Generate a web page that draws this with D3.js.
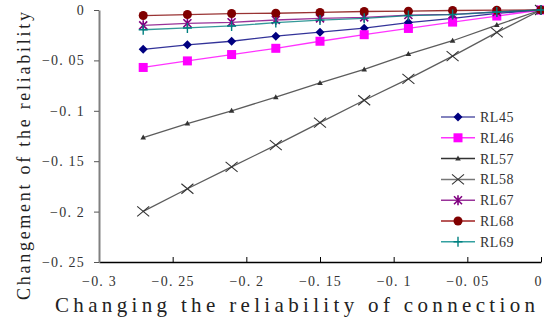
<!DOCTYPE html>
<html>
<head>
<meta charset="utf-8">
<script src="https://cdn.jsdelivr.net/npm/d3@7"></script>
<style>
  body { margin: 0; background: #fff; }
  svg { display: block; }
</style>
</head>
<body>
<div id="chart"></div>
<script>
// x values (changing reliability of connection)
const xValues = [-0.27, -0.24, -0.21, -0.18, -0.15, -0.12, -0.09, -0.06, -0.03, 0];

const rl45 = [-0.039, -0.0345, -0.031, -0.026, -0.022, -0.018, -0.0125, -0.0083, -0.0033, 0];
const rl46 = [-0.057, -0.0505, -0.0442, -0.038, -0.031, -0.0245, -0.0183, -0.012, -0.006, 0];
const rl57 = [-0.1266, -0.1127, -0.1, -0.0865, -0.0723, -0.059, -0.0437, -0.0305, -0.015, 0];
const rl58 = [-0.1998, -0.1773, -0.1557, -0.134, -0.1117, -0.0895, -0.0683, -0.0457, -0.0222, 0];
const rl67 = [-0.0152, -0.0132, -0.0122, -0.0099, -0.0083, -0.0073, -0.005, -0.0043, -0.002, 0];
const rl68 = [-0.0055, -0.0045, -0.0035, -0.0032, -0.0024, -0.0015, -0.0012, -0.0005, -0.0002, 0];
const rl69 = [-0.0196, -0.0178, -0.0158, -0.0125, -0.01, -0.0083, -0.0055, -0.0045, -0.002, 0];

const seriesNames = ['RL45', 'RL46', 'RL57', 'RL58', 'RL67', 'RL68', 'RL69'];
const seriesValues = [rl45, rl46, rl57, rl58, rl67, rl68, rl69];
const seriesColors = ['#000080', '#ff00ff', '#333333', '#333333', '#800080', '#800000', '#008080'];
const legendLineColors = ['#5a5aa8', '#ff33ff', '#333333', '#777777', '#993399', '#a02020', '#33a0a0'];
const seriesMarkers = ['diamond', 'square', 'triangle', 'x', 'asterisk', 'circle', 'plus'];

const xTicks = [-0.3, -0.25, -0.2, -0.15, -0.1, -0.05, 0];
const yTicks = [0, -0.05, -0.1, -0.15, -0.2, -0.25];
const xTickLabels = ['−0. 3', '−0. 25', '−0. 2', '−0. 15', '−0. 1', '−0. 05', '0'];
const yTickLabels = ['0', '−0. 05', '−0. 1', '−0. 15', '−0. 2', '−0. 25'];

const xTitle = 'Changing the reliability of connection';
const yTitle = 'Changement of the reliability';

const width = 544, height = 320;
const margin = { top: 10, right: 3, bottom: 58, left: 99 };
const plotW = width - margin.left - margin.right;
const plotH = height - margin.top - margin.bottom;

const svg = d3.select('#chart').append('svg')
  .attr('width', width)
  .attr('height', height);

const x = d3.scaleLinear().domain([-0.3, 0]).range([0, plotW]);
const y = d3.scaleLinear().domain([-0.25, 0]).range([plotH, 0]);

const g = svg.append('g')
  .attr('transform', 'translate(' + margin.left + ',' + margin.top + ')');

// draws one marker at the origin of the given group
function drawMarker(sel, type, color) {
  switch (type) {
    case 'diamond':
      sel.append('path').attr('d', 'M0,-4.5L4.5,0L0,4.5L-4.5,0Z').attr('fill', color);
      break;
    case 'square':
      sel.append('rect').attr('x', -4.5).attr('y', -4.5).attr('width', 9).attr('height', 9).attr('fill', color);
      break;
    case 'triangle':
      sel.append('path').attr('d', 'M0,-3L2.8,2L-2.8,2Z').attr('fill', color);
      break;
    case 'x':
      sel.append('path').attr('d', 'M-6,-5L6,5M-6,5L6,-5').attr('stroke', color).attr('stroke-width', 1.1).attr('fill', 'none');
      break;
    case 'asterisk':
      sel.append('path').attr('d', 'M-4,-4L4,4M-4,4L4,-4M0,-5L0,5').attr('stroke', color).attr('stroke-width', 1.6).attr('fill', 'none');
      break;
    case 'circle':
      sel.append('circle').attr('r', 4.5).attr('fill', color);
      break;
    case 'plus':
      sel.append('path').attr('d', 'M-4.5,0L4.5,0M0,-5L0,5').attr('stroke', color).attr('stroke-width', 1.4).attr('fill', 'none');
      break;
  }
}

// axes
const xAxis = g.append('g')
  .attr('transform', 'translate(0,' + plotH + ')')
  .call(d3.axisBottom(x).tickValues(xTicks).tickSizeInner(-5).tickSizeOuter(0)
    .tickFormat((d, i) => xTickLabels[i]));
xAxis.select('.domain').attr('stroke', '#000').attr('stroke-width', 1.5);
xAxis.selectAll('.tick line').attr('stroke', '#000');
xAxis.selectAll('.tick text')
  .attr('y', 14)
  .attr('font-family', '"Liberation Serif", serif')
  .attr('font-size', 14)
  .attr('letter-spacing', 1.2)
  .attr('fill', '#333');
// keep the last label ("0") inside the window
xAxis.selectAll('.tick text').filter(d => d === 0).attr('dx', -3);

const yAxis = g.append('g')
  .call(d3.axisLeft(y).tickValues(yTicks).tickSizeInner(5).tickSizeOuter(0)
    .tickFormat((d, i) => yTickLabels[i]));
yAxis.select('.domain').attr('stroke', '#808080').attr('stroke-width', 2);
yAxis.selectAll('.tick line').attr('stroke', '#555');
yAxis.selectAll('.tick text')
  .attr('x', -14)
  .attr('font-family', '"Liberation Serif", serif')
  .attr('font-size', 14)
  .attr('letter-spacing', 1.2)
  .attr('fill', '#333');

// series lines and markers
const line = d3.line().x((d, i) => x(xValues[i])).y(d => y(d));

seriesValues.forEach((vals, s) => {
  g.append('path')
    .datum(vals)
    .attr('d', line)
    .attr('fill', 'none')
    .attr('stroke', seriesColors[s])
    .attr('stroke-opacity', 0.8)
    .attr('stroke-width', 1.3);
  g.selectAll('.m' + s)
    .data(vals)
    .enter().append('g')
    .attr('class', 'm' + s)
    .attr('transform', (d, i) => 'translate(' + x(xValues[i]) + ',' + y(d) + ')')
    .each(function () { drawMarker(d3.select(this), seriesMarkers[s], seriesColors[s]); });
});

// legend
const legend = svg.append('g').attr('transform', 'translate(441,117)');
seriesNames.forEach((name, s) => {
  const item = legend.append('g').attr('transform', 'translate(0,' + (s * 20.8) + ')');
  item.append('line').attr('x1', 0).attr('x2', 34).attr('y1', 0).attr('y2', 0)
    .attr('stroke', legendLineColors[s]).attr('stroke-width', 1.5);
  drawMarker(item.append('g').attr('transform', 'translate(17,0)'), seriesMarkers[s], seriesColors[s]);
  item.append('text')
    .attr('x', 39).attr('y', 0).attr('dy', '0.35em')
    .attr('font-family', '"Liberation Serif", serif')
    .attr('font-size', 14)
    .attr('letter-spacing', 0.5)
    .attr('fill', '#333')
    .text(name);
});

// axis titles
svg.append('text')
  .attr('x', 295).attr('y', 312)
  .attr('text-anchor', 'middle')
  .attr('font-family', '"Liberation Serif", serif')
  .attr('font-size', 21)
  .attr('fill', '#222')
  .attr('textLength', 480)
  .attr('lengthAdjust', 'spacing')
  .text(xTitle);

svg.append('text')
  .attr('transform', 'translate(30,156) rotate(-90)')
  .attr('text-anchor', 'middle')
  .attr('font-family', '"Liberation Serif", serif')
  .attr('font-size', 18)
  .attr('fill', '#222')
  .attr('textLength', 288)
  .attr('lengthAdjust', 'spacing')
  .text(yTitle);
</script>
</body>
</html>
